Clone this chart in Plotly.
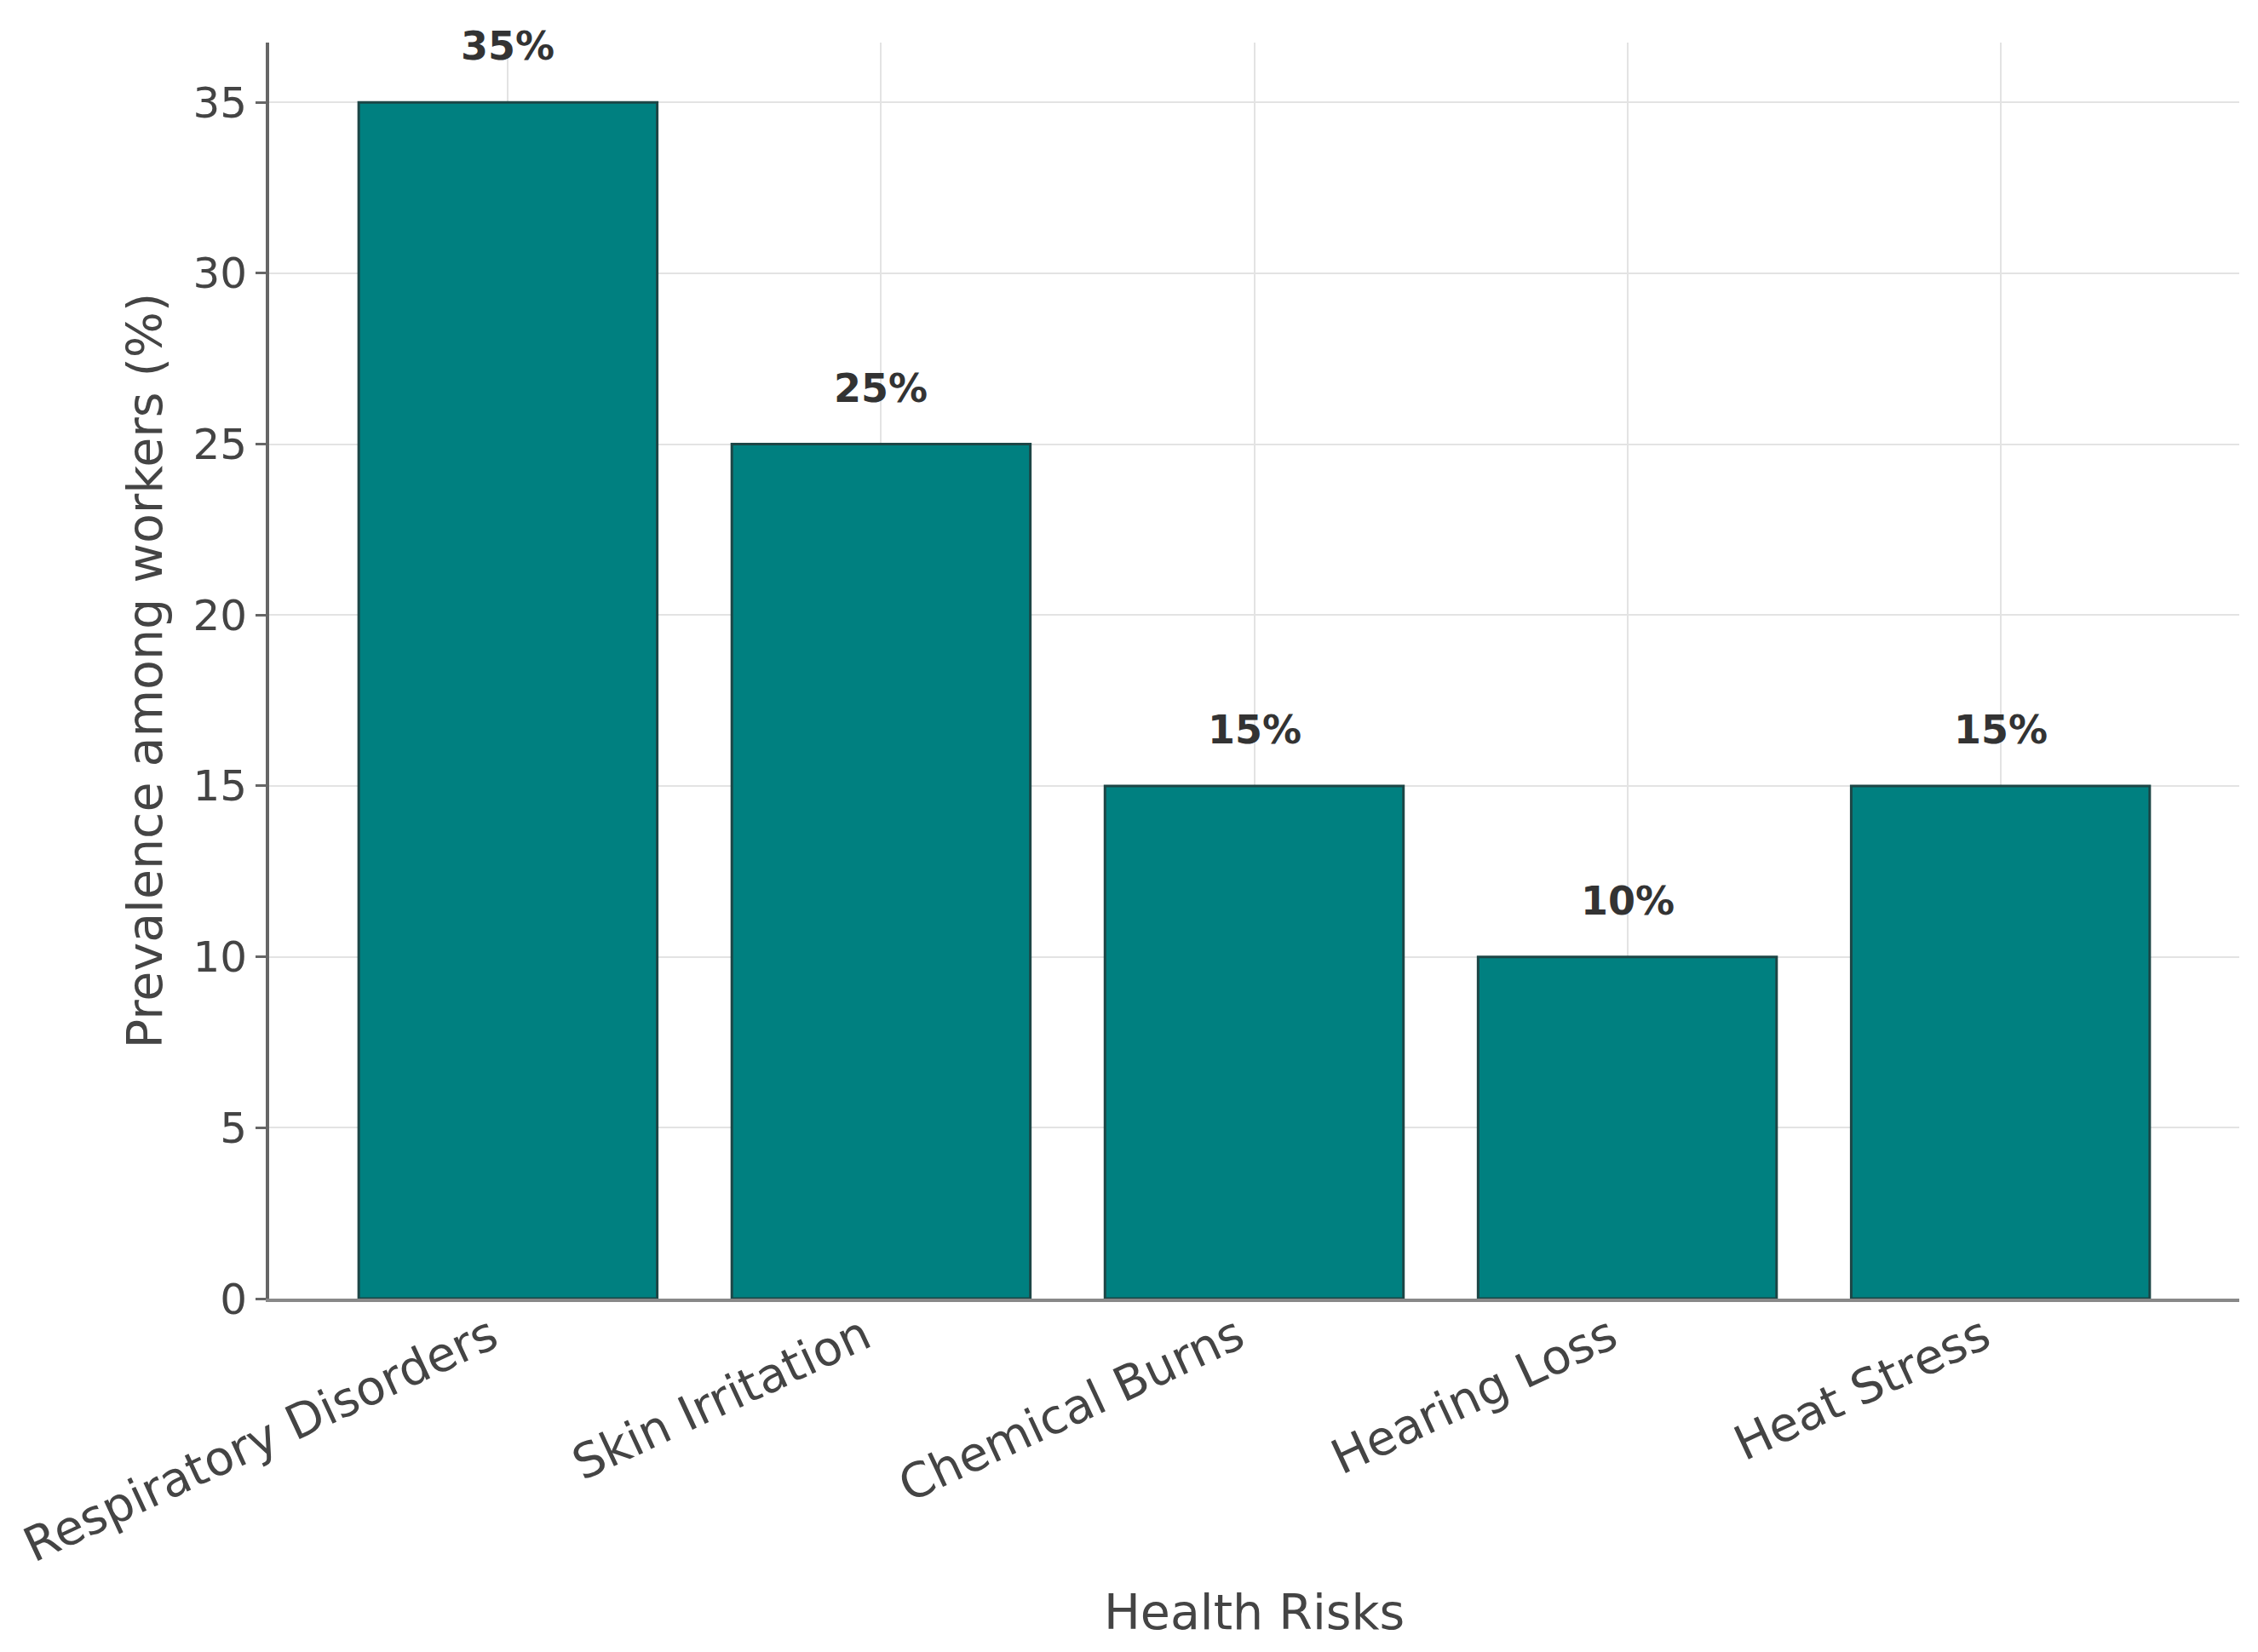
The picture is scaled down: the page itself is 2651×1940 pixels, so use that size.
import plotly.graph_objects as go

categories = ["Respiratory Disorders", "Skin Irritation", "Chemical Burns", "Hearing Loss", "Heat Stress"]
prevalence = [35, 25, 15, 10, 15]
y_ticks = [0, 5, 10, 15, 20, 25, 30, 35]
bar_labels = [f"{v}%" for v in prevalence]
x_title = "Health Risks"
y_title = "Prevalence among workers (%)"

FONT = "DejaVu Sans"

fig = go.Figure()
fig.add_trace(go.Bar(
    x=categories,
    y=prevalence,
    width=0.8,
    marker=dict(color="#008080", line=dict(color="#1d4646", width=3)),
    showlegend=False,
))

for c, v, t in zip(categories, prevalence, bar_labels):
    fig.add_annotation(
        x=c, y=v, text=f"<b>{t}</b>", showarrow=False,
        yanchor="middle", xanchor="center", yshift=66,
        font=dict(family=FONT, size=46, color="#333333"),
    )

# x-axis title placed below the rotated tick labels
fig.add_annotation(
    x=0.5, y=0, xref="paper", yref="paper", text=x_title, showarrow=False,
    xanchor="center", yanchor="middle", yshift=-368,
    font=dict(family=FONT, size=57, color="#444444"),
)

fig.update_layout(
    width=2651, height=1940,
    margin=dict(l=316, r=22, t=50, b=415, autoexpand=False),
    plot_bgcolor="white", paper_bgcolor="white",
    font=dict(family=FONT, color="#444444"),
    bargap=0.2,
)

fig.update_xaxes(
    range=[-0.64, 4.64],
    tickangle=-25,
    tickfont=dict(family=FONT, size=56, color="#444444"),
    ticklabelshift=-20,
    ticklabelstandoff=-14,
    showgrid=True, gridcolor="#e3e3e3", gridwidth=2,
    showline=True, linecolor="#888888", linewidth=4,
    ticks="", automargin=False,
)

fig.update_yaxes(
    range=[0, 36.75],
    tickvals=y_ticks,
    tickfont=dict(family=FONT, size=50, color="#444444"),
    showgrid=True, gridcolor="#e3e3e3", gridwidth=2,
    showline=True, linecolor="#666666", linewidth=4,
    ticks="outside", ticklen=12, tickwidth=3, tickcolor="#666666",
    zeroline=False, automargin=False,
    title=dict(text=y_title, font=dict(family=FONT, size=57, color="#444444"), standoff=18),
)

fig.write_html("out.html")
